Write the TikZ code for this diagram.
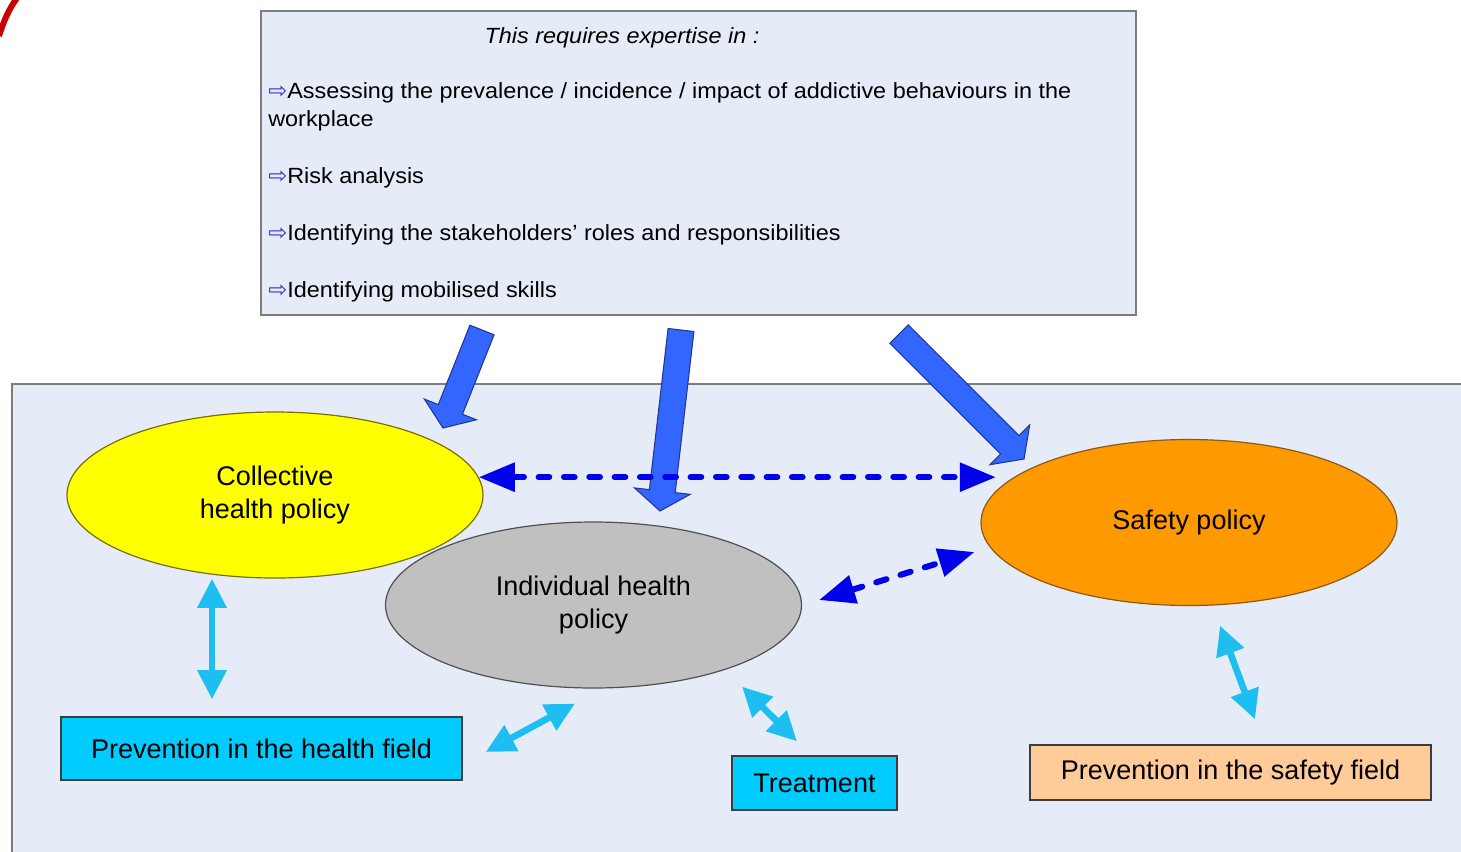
\documentclass[tikz,border=0pt]{standalone}
\usepackage{fontspec}
\setmainfont{Liberation Sans}
\newfontfamily\boxfont{Liberation Sans}[FakeStretch=1.065]
\newfontfamily\arrowfont{DejaVu Sans}
\usetikzlibrary{shapes}
\usetikzlibrary{arrows.meta}
\usetikzlibrary{calc}

\definecolor{panelblue}{RGB}{230,236,247}
\definecolor{panelline}{RGB}{125,125,125}
\definecolor{polyellow}{RGB}{255,255,0}
\definecolor{yelline}{RGB}{120,110,10}
\definecolor{polygrey}{RGB}{192,192,192}
\definecolor{greyline}{RGB}{80,80,80}
\definecolor{polorange}{RGB}{255,153,0}
\definecolor{orangeline}{RGB}{140,90,20}
\definecolor{fieldcyan}{RGB}{0,204,255}
\definecolor{fieldpeach}{RGB}{255,204,153}
\definecolor{fieldline}{RGB}{60,60,60}
\definecolor{linkcyan}{RGB}{30,190,240}
\definecolor{dashblue}{RGB}{0,0,235}
\definecolor{fatblue}{RGB}{51,102,255}
\definecolor{fatline}{RGB}{35,55,140}
\definecolor{bulletblue}{RGB}{60,50,200}
\definecolor{arcred}{RGB}{200,0,0}

\newcommand{\bul}{{\color{bulletblue}\arrowfont\fontsize{17pt}{17pt}\selectfont ⇨}}

% thick block arrow from #1 (tail) to #2 (tip)
\newcommand{\fatarrow}[2]{%
	\path (#1) coordinate (fa_t) (#2) coordinate (fa_h);
	\path ($(fa_h)!15pt!(fa_t)$) coordinate (fa_b);
	\draw[fat_arrow] ($(fa_t)!9.75pt!90:(fa_h)$) -- ($(fa_b)!9.75pt!90:(fa_h)$)
		-- ($(fa_b)!21pt!90:(fa_h)$) -- (fa_h) -- ($(fa_b)!21pt!-90:(fa_h)$)
		-- ($(fa_b)!9.75pt!-90:(fa_h)$) -- ($(fa_t)!9.75pt!-90:(fa_h)$) -- cycle;
}

\tikzset{
	panel/.style = {
		fill=panelblue,
		draw=panelline,
		line width=1.2pt
	},
	item_text/.style = {
		align=left,
		inner sep=0pt,
		font=\boxfont\fontsize{16.5pt}{21pt}\selectfont
	},
	policy/.style = {
		ellipse,
		align=center,
		inner sep=0pt,
		line width=0.9pt,
		minimum width=312pt,
		minimum height=124.5pt,
		font=\fontsize{20.25pt}{24.75pt}\selectfont
	},
	policy_coll/.style = {
		policy,
		fill=polyellow,
		draw=yelline
	},
	policy_indiv/.style = {
		policy,
		fill=polygrey,
		draw=greyline
	},
	policy_safe/.style = {
		policy,
		fill=polorange,
		draw=orangeline
	},
	field/.style = {
		rectangle,
		inner sep=0pt,
		line width=1pt,
		draw=fieldline,
		font=\fontsize{20.25pt}{24.75pt}\selectfont
	},
	field_cyan/.style = {
		field,
		fill=fieldcyan
	},
	field_peach/.style = {
		field,
		fill=fieldpeach
	},
	dash_arrow/.style = {
		<->,
		>={Triangle[length=27pt,width=21pt]},
		draw=dashblue,
		line width=4.5pt,
		line cap=round,
		dash pattern=on 8pt off 11pt
	},
	link_arrow/.style = {
		<->,
		>={Triangle[length=22pt,width=21pt]},
		draw=linkcyan,
		line width=5pt
	},
	fat_arrow/.style = {
		fill=fatblue,
		draw=fatline,
		line width=0.8pt,
		line join=miter
	},
}

\begin{document}
\begin{tikzpicture}[x={(0.75pt,0)}, y={(0,-0.75pt)}]
\useasboundingbox (0,0) rectangle (1461,851);
\clip (0,0) rectangle (1461,851);
\fill[white] (0,0) rectangle (1461,851);

% corner arc
\draw[arcred, line width=4.5pt] (-1,36) .. controls (4,20) and (9,9) .. (17,-2);

% panels
\draw[panel] (12,384) rectangle (1480,880);
\node[panel, minimum width=656.25pt, minimum height=228pt, inner sep=0pt] (expertise) at (698.5,163) {};

\node[item_text, font=\boxfont\itshape\fontsize{16.5pt}{21pt}\selectfont, anchor=base] (header) at (622,43) {This requires expertise in :};
\node[item_text, anchor=north west] (items) at (268,82) {\bul Assessing the prevalence / incidence / impact of addictive behaviours in the\\workplace\\[21.75pt]\bul Risk analysis\\[21.75pt]\bul Identifying the stakeholders’ roles and responsibilities\\[21.75pt]\bul Identifying mobilised skills};

% policies
\node[policy_coll] (coll) at (275,495) {Collective\\health policy};
\node[policy_safe] (safe) at (1189,522.5) {Safety policy};
\node[policy_indiv] (indiv) at (593.5,605) {Individual health\\policy};

% fields
\node[field_cyan, minimum width=300.75pt, minimum height=47.25pt] (hprev) at (261.5,748.5) {Prevention in the health field};
\node[field_cyan, minimum width=123.75pt, minimum height=40.5pt] (treat) at (814.5,783) {Treatment};
\node[field_peach, minimum width=300.75pt, minimum height=41.25pt] (sprev) at (1230.5,772.5) {Prevention in the safety field};

% block arrows from the expertise box
\coordinate (tail_coll) at (482,330);
\coordinate (tip_coll) at (443,428);
\coordinate (tail_indiv) at (681,330);
\coordinate (tip_indiv) at (660,511);
\coordinate (tail_safe) at (899,334);
\coordinate (tip_safe) at (1024,459);
\fatarrow{tail_coll}{tip_coll}
\fatarrow{tail_indiv}{tip_indiv}
\fatarrow{tail_safe}{tip_safe}

% links between policies
\draw[dash_arrow] (coll.5) -- ++(517,0);
\draw[dash_arrow] ($(indiv.east)+(17,-5)$) -- ($(safe.west)+(-6,29.5)$);

% links to fields
\draw[link_arrow] ($(coll.south)+(-63,0)$) -- ($(hprev.north)+(-49.5,-17)$);
\draw[link_arrow] ($(hprev.east)+(23,3.5)$) -- ($(indiv.south)+(-18.5,15)$);
\draw[link_arrow] ($(indiv.south)+(148.5,-2)$) -- ($(treat.north)+(-17.5,-14)$);
\draw[link_arrow] ($(safe.south)+(31,19.5)$) -- ($(sprev.north)+(24.5,-25)$);
\end{tikzpicture}
\end{document}
